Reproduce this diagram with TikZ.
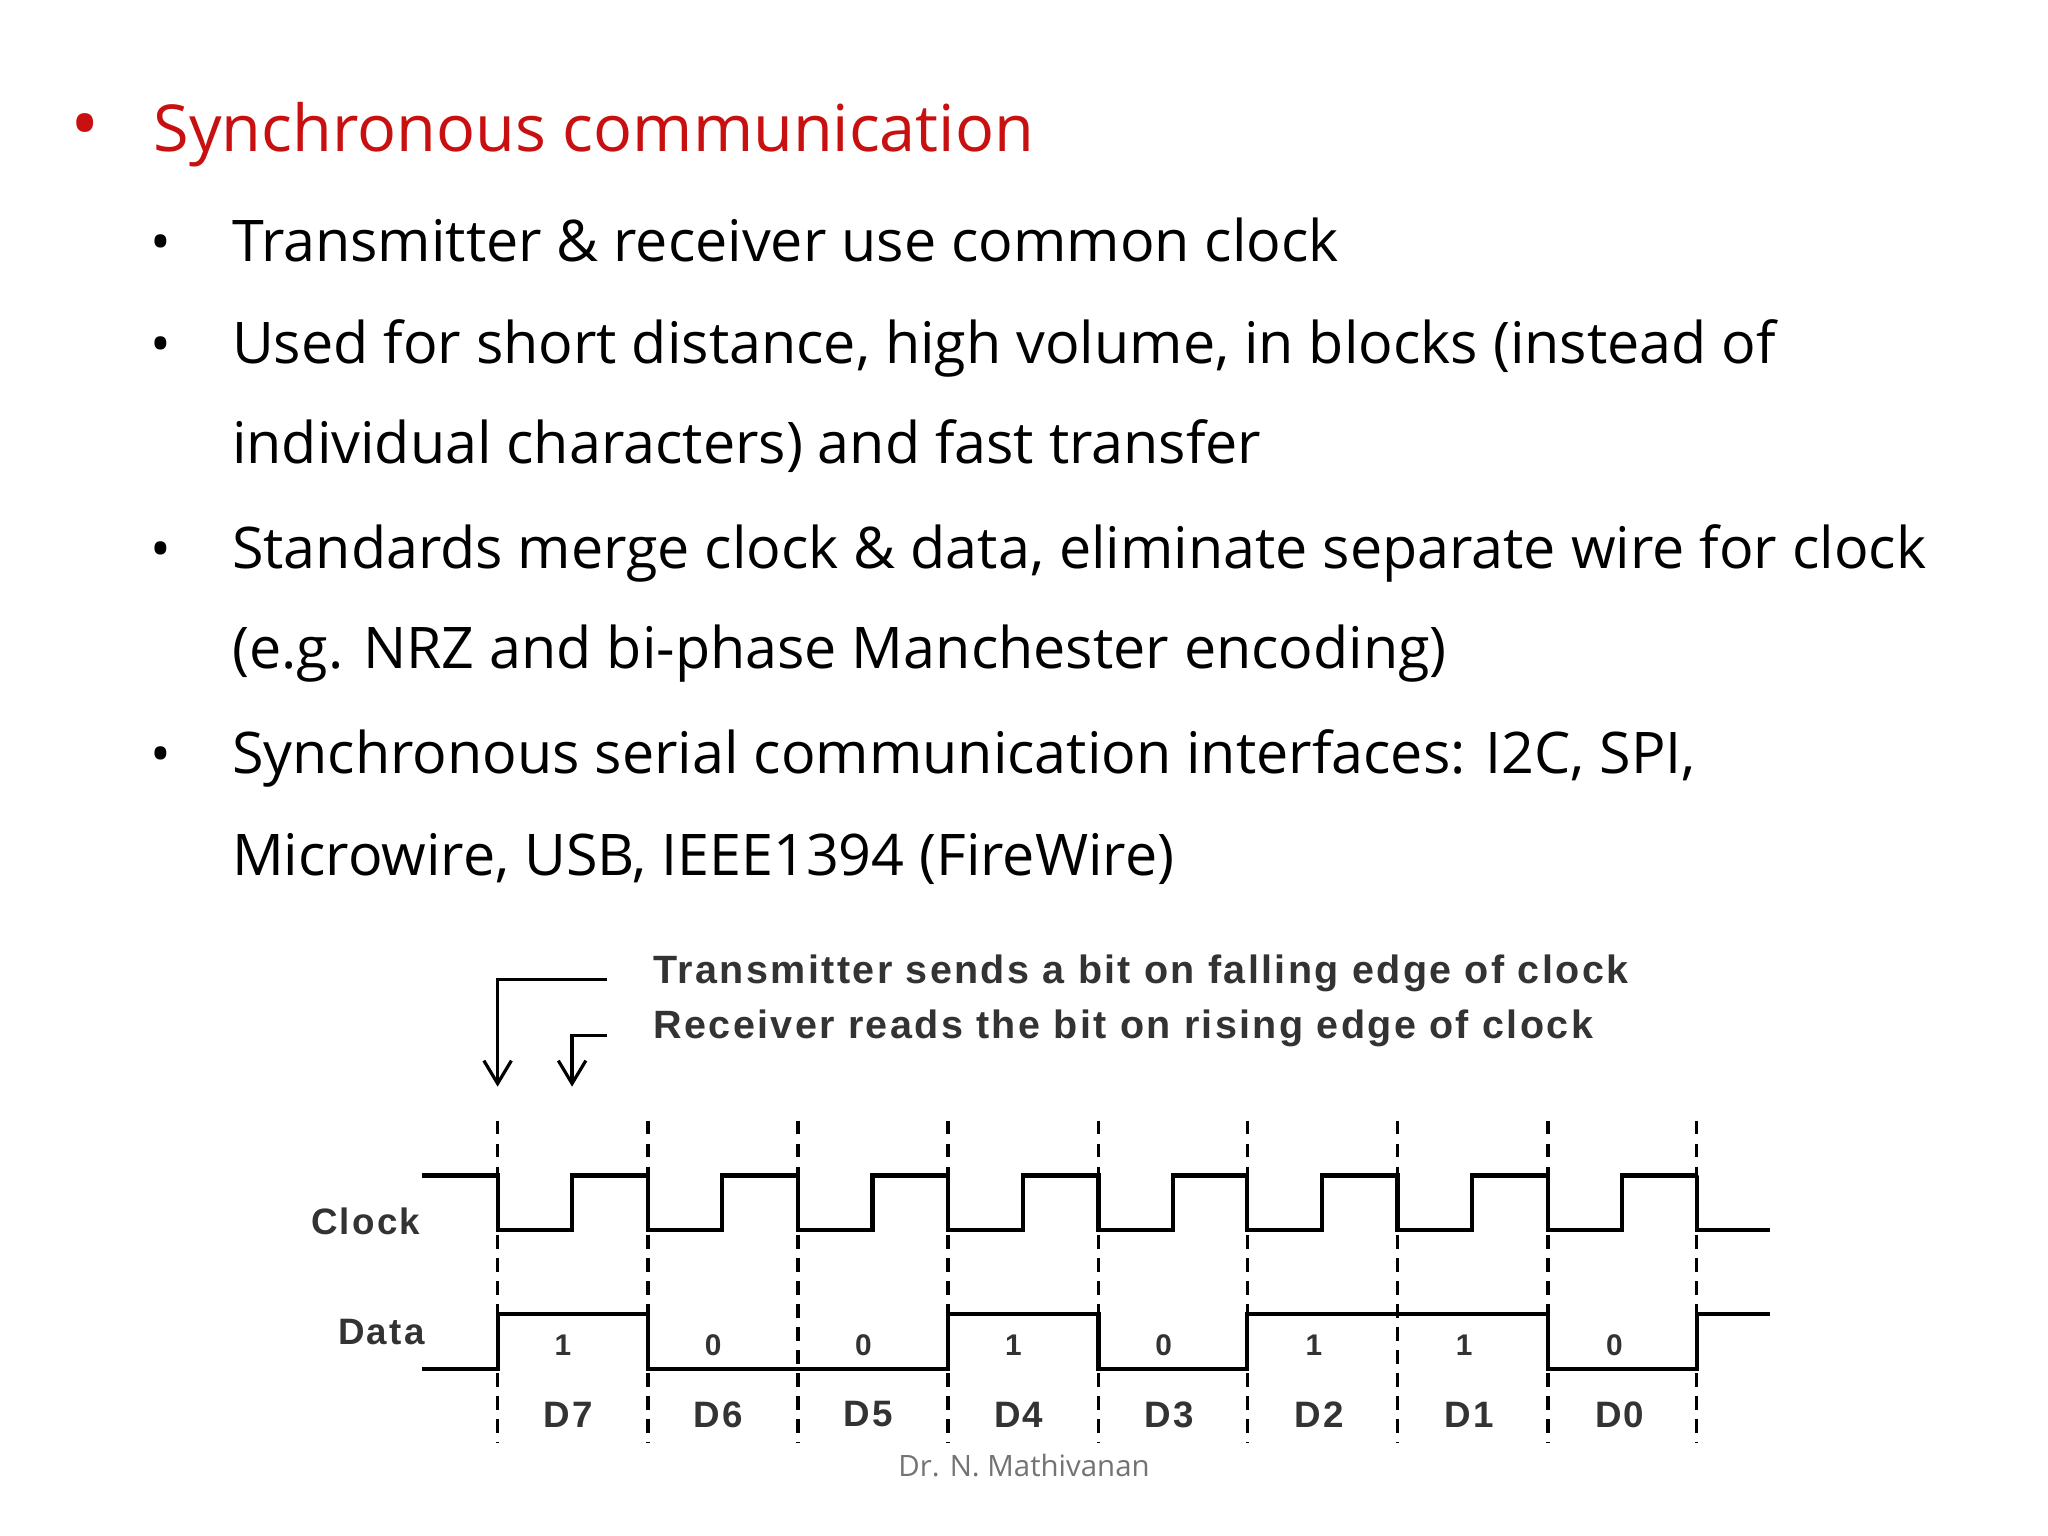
\documentclass[tikz,border=0pt]{standalone}
\usepackage{fontspec}
\setmainfont{Open Sans}
\newfontfamily\diagfont[LetterSpace=6]{Liberation Sans}
\usetikzlibrary{arrows.meta}
\usetikzlibrary{positioning}
\definecolor{titlered}{RGB}{200,16,16}
\begin{document}
\begin{tikzpicture}[x=0.01cm,y=-0.01cm]
    \tikzset{bullet text/.style={anchor=base west,inner sep=0pt,font=\fontsize{12.5}{15}\selectfont},
        sig lines/.style={line width=0.9pt,black},
        bit text/.style={font=\diagfont\bfseries\fontsize{6.5}{8}\selectfont,text=black!80},
        edge arrow/.style={line width=0.7pt,-{Straight Barb[length=5pt,width=6pt]}}}
    \useasboundingbox (0,0) rectangle (1568,1176);
    % bullets and text
    \node[titlered,anchor=base] (b0) at (65,116) {\fontsize{17}{20}\selectfont •};
    \node[bullet text,titlered,font=\fontsize{14.1}{17}\selectfont] (title) at (117,116) {Synchronous communication};
    \foreach \y/\txt [count=\i] in {200/{Transmitter \& receiver use common clock},
        278/{Used for short distance, high volume, in blocks (instead of},
        355/{individual characters) and fast transfer},
        435/{Standards merge clock \& data, eliminate separate wire for clock},
        512/{(e.g. NRZ and bi-phase Manchester encoding)},
        592/{Synchronous serial communication interfaces: I2C, SPI,},
        670/{Microwire, USB, IEEE1394 (FireWire)}}
        \node[bullet text] (t\i) at (177,\y) {\txt};
    \foreach \y [count=\i] in {200,278,435,592}
        \node[anchor=base,font=\fontsize{12}{14}\selectfont] (b\i) at (123,\y) {•};
    % timing diagram
    \foreach \x [count=\i] in {381,496,611,726,841,955,1070,1185,1299}
        \draw[densely dashed,line width=0.8pt] (\x,858) -- (\x,1105);
    \node[bit text,font=\diagfont\bfseries\fontsize{8}{10}\selectfont] (clk) at (280,935) {Clock};
    \node[bit text,font=\diagfont\bfseries\fontsize{8}{10}\selectfont] (dat) at (292,1020) {Data};
    \draw[sig lines] (323,900) -- (381,900)
        \foreach \x in {381,496,611,726,841,955,1070,1185} { -- (\x,900) -- (\x,942) -- (\x+57,942) -- (\x+57,900) -- (\x+115,900) }
        -- (1299,900) -- (1299,942) -- (1355,942);
    \draw[sig lines] (323,1048) -- (381,1048) -- (381,1006) -- (496,1006) -- (496,1048)
        -- (726,1048) -- (726,1006) -- (841,1006) -- (841,1048) -- (955,1048) -- (955,1006)
        -- (1185,1006) -- (1185,1048) -- (1299,1048) -- (1299,1006) -- (1355,1006);
    \foreach \b/\d [count=\i] in {1/D7,0/D6,0/D5,1/D4,0/D3,1/D2,1/D1,0/D0} {
        \node[bit text] (bit\i) at (381+115*\i-65,1030) {\b};
        \node[bit text,font=\diagfont\bfseries\fontsize{8}{10}\selectfont] (d\i) at (381+115*\i-61,1083) {\d};
    }
    \coordinate (fall) at (465,750);
    \coordinate (rise) at (465,793);
    \coordinate (fallend) at (381,832);
    \coordinate (riseend) at (438,832);
    \draw[edge arrow] (fall) -| (fallend);
    \draw[edge arrow] (rise) -| (riseend);
    \node[bit text,anchor=west,font=\diagfont\bfseries\fontsize{8.6}{10}\selectfont] (tx) at (488,745) {Transmitter sends a bit on falling edge of clock};
    \node[bit text,anchor=west,font=\diagfont\bfseries\fontsize{8.6}{10}\selectfont] (rx) at (488,787) {Receiver reads the bit on rising edge of clock};
    \node[text=black!55,font=\fontsize{6.4}{8}\selectfont] (foot) at (784,1122) {Dr. N. Mathivanan};
\end{tikzpicture}
\end{document}
